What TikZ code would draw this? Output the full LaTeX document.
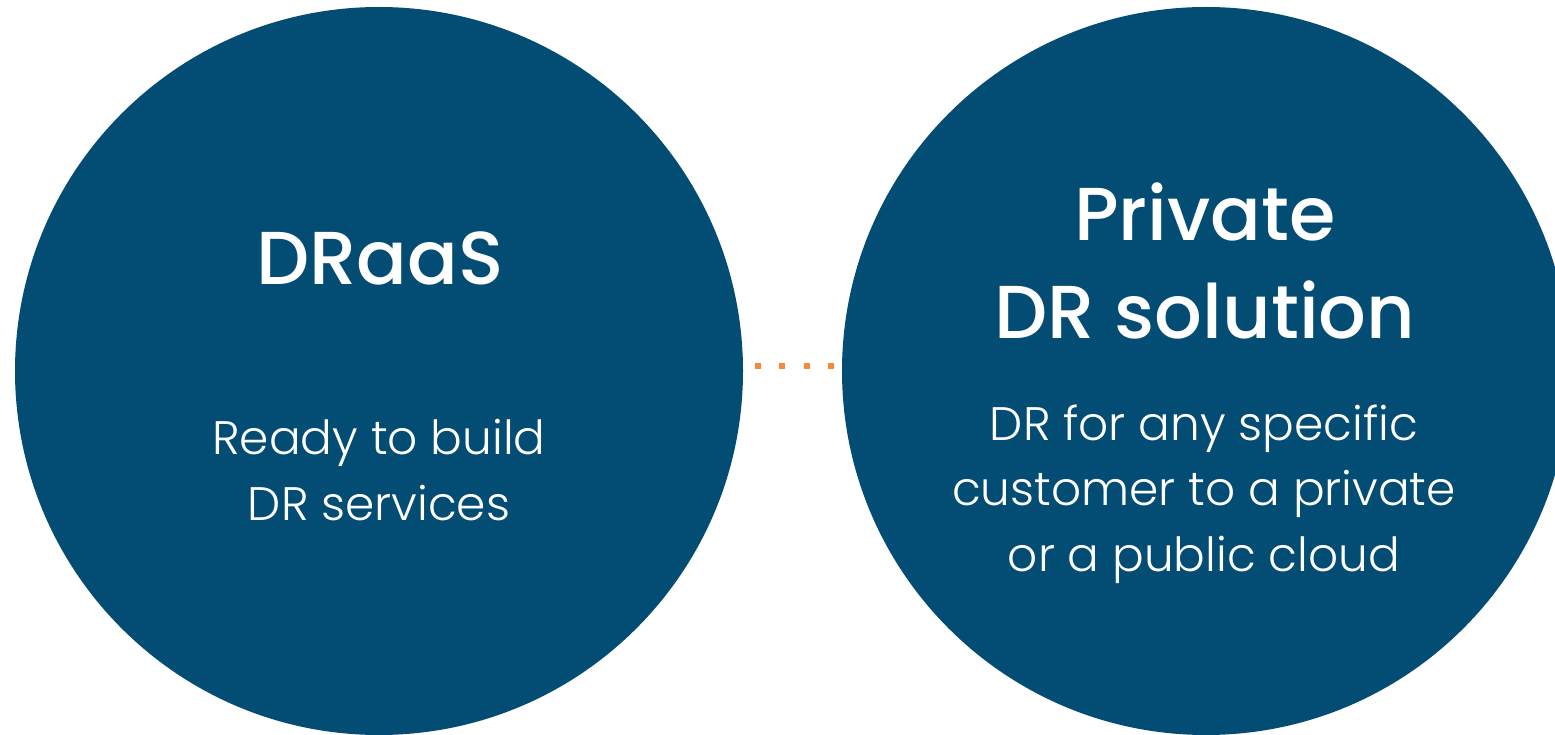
\documentclass[tikz,border=0pt]{standalone}
\usepackage{fontspec}
\newfontfamily\titlefont{Poppins Medium}
\newfontfamily\bodyfont{Poppins Light}
\definecolor{navy}{RGB}{3,76,115}
\definecolor{dotorange}{RGB}{245,138,58}
\tikzset{
  disc/.style={circle,fill=navy,minimum size=728pt,inner sep=0pt},
  title/.style={text=white,font=\titlefont\fontsize{75}{98}\selectfont,align=center,anchor=base},
  body/.style={text=white,font=\bodyfont\fontsize{47}{65.5}\selectfont,align=center,anchor=base},
  dotsq/.style={fill=dotorange,minimum size=6pt,inner sep=0pt}
}
\begin{document}
\begin{tikzpicture}[x=1pt,y=-1pt]
\useasboundingbox (0,0) rectangle (1555,735);
\begin{scope}
\clip (0,0) rectangle (1555,735);
\node[disc] (left) at (379,371) {};
\node[disc] (right) at (1206,371) {};
\end{scope}
\node[title] (t1) at (380,285) {DRaaS};
\node[body] (b1) at (379,520) {Ready to build\\DR services};
\node[title] (t2) at (1205,338) {Private\\DR solution};
\node[body] (b2) at (1204,571) {DR for any specific\\customer to a private\\or a public cloud};
\foreach \i/\x in {1/757.5,2/782,3/806.5,4/831}{
  \node[dotsq] (d\i) at (\x,365.5) {};
}
\end{tikzpicture}
\end{document}
